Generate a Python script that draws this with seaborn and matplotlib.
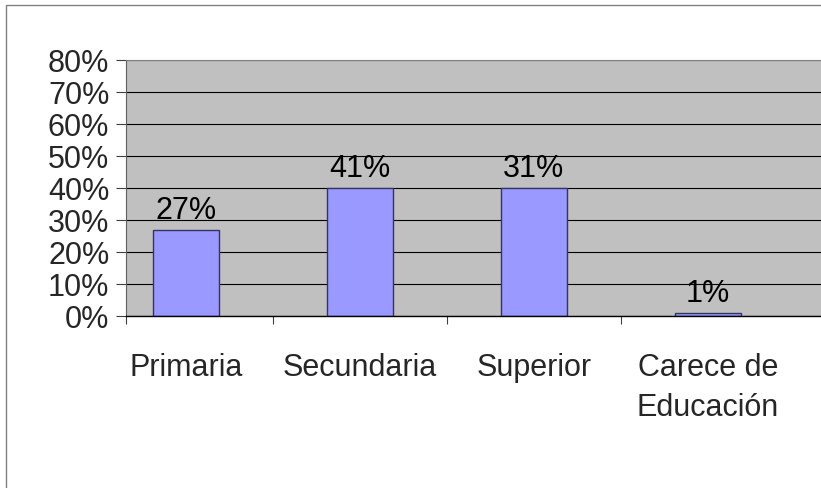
import numpy as np
import matplotlib
matplotlib.use("Agg")
import matplotlib.pyplot as plt
from matplotlib.patches import Rectangle
import seaborn as sns

# Data
categories = ["Primaria", "Secundaria", "Superior", "Carece de\nEducación"]
bar_values = [27, 40, 40, 1]          # bar heights (percent)
bar_labels = ["27%", "41%", "31%", "1%"]  # labels printed above the bars
y_ticks = [0, 10, 20, 30, 40, 50, 60, 70, 80]

sns.set_style("white")
plt.rcParams["font.family"] = ["Liberation Sans", "DejaVu Sans"]

fig = plt.figure(figsize=(8.21, 4.89), dpi=100)
ax = fig.add_axes([126 / 821, 1 - 317 / 489, 1 - 126 / 821, (317 - 61) / 489])

# outer chart border (only top and left visible in the reference)
fig.patches.append(Rectangle((6 / 821, -0.1), 1.2, 1.1 - 6 / 489,
                             transform=fig.transFigure, fill=False,
                             edgecolor="#808080", linewidth=1, zorder=0))

ax.set_facecolor("#C0C0C0")
ax.set_axisbelow(True)
ax.grid(True, axis="y", color="black", linewidth=0.8)

sns.barplot(x=categories, y=bar_values, color="#9999FF", edgecolor="#333366",
            linewidth=1, width=0.38, saturation=1, ax=ax)

xmin, xmax = -0.345, 3.65
ax.set_xlim(xmin, xmax)
ax.set_ylim(0, 80)

# value labels above bars
for i, (v, lab) in enumerate(zip(bar_values, bar_labels)):
    ax.annotate(lab, (i, v), xytext=(0, 8.5), textcoords="offset points",
                ha="center", va="baseline", fontsize=22, color="black")

ax.set_yticks(y_ticks)
ax.set_yticklabels([f"{t}%" for t in y_ticks])
ax.tick_params(axis="y", left=True, length=7, width=0.8, color="#404040",
               pad=5, labelsize=22)

ax.set_xticks(range(len(categories)))
ax.set_xticklabels(categories, fontsize=22, linespacing=1.42)
ax.set_xticks([xmin] + list(np.arange(len(categories) - 1) + 0.5), minor=True)
ax.tick_params(axis="x", which="major", length=0, pad=26)
ax.tick_params(axis="x", which="minor", bottom=True, length=6, width=0.8,
               color="#404040")

ax.set_xlabel("")
ax.set_ylabel("")

ax.spines["right"].set_visible(False)
ax.spines["top"].set_color("#808080")
ax.spines["top"].set_linewidth(0.8)
ax.spines["left"].set_color("#606060")
ax.spines["left"].set_linewidth(0.8)
ax.spines["bottom"].set_color("black")
ax.spines["bottom"].set_linewidth(1)

fig.savefig("out.png", dpi=100)
